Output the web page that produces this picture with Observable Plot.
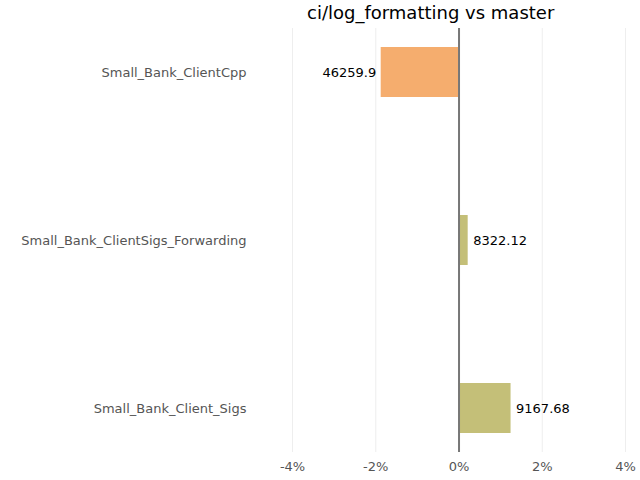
<!DOCTYPE html>
<html><head>
<script src="https://cdn.jsdelivr.net/npm/d3@7"></script>
<script src="https://cdn.jsdelivr.net/npm/@observablehq/plot@0.6"></script>
<style>body{margin:0;font-family:"DejaVu Sans",sans-serif;background:#fff}
#title{height:28px;line-height:26px;font-size:18px;padding-left:307px;}</style>
</head><body>
<div id="title">ci/log_formatting vs master</div>
<div id="chart"></div>
<script>
const names = ["Small_Bank_ClientCpp", "Small_Bank_ClientSigs_Forwarding", "Small_Bank_Client_Sigs"]
const change = [-1.87, 0.22, 1.25]
const labels = ["46259.9", "8322.12", "9167.68"]
const colors = ["#f5ad6e", "#c4bf78", "#c4bf78"]
const data = names.map((n, i) => ({name: n, change: change[i], label: labels[i], color: colors[i]}))

let chart = Plot.plot({
  width: 640,
  height: 454,
  marginTop: 0,
  marginBottom: 30,
  marginLeft: 255,
  marginRight: 15,
  x: {domain: [-4.89, 4], ticks: [-4, -2, 0, 2, 4], tickFormat: d => d + "%", label: null, tickSize: 0, grid: true},
  y: {domain: names, label: null, tickSize: 0, paddingInner: 0.7, paddingOuter: 0.11},
  style: {fontFamily: "DejaVu Sans", fontSize: 13, color: "#555"},
  marks: [
    Plot.barX(data, {x: "change", y: "name", fill: "color"}),
    Plot.ruleX([0], {stroke: "#777", strokeWidth: 2}),
    Plot.text(data.filter(d => d.change < 0), {x: "change", y: "name", text: "label", fill: "black", fontSize: 13, textAnchor: "end", dx: -5}),
    Plot.text(data.filter(d => d.change >= 0), {x: "change", y: "name", text: "label", fill: "black", fontSize: 13, textAnchor: "start", dx: 5}),
  ]
})
d3.select('#chart').append(() => chart)
</script>
</body></html>
